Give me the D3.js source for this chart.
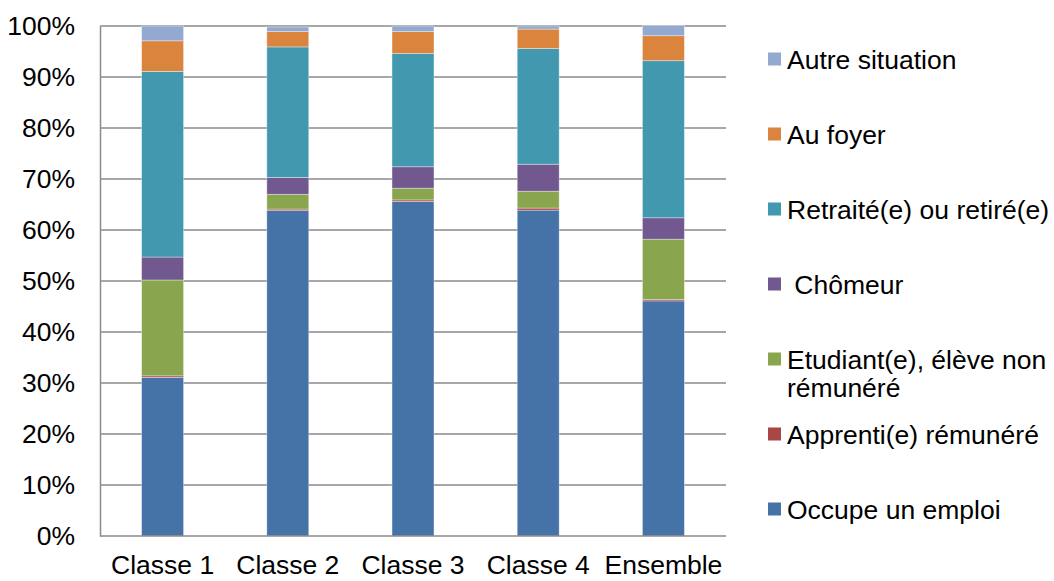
<!DOCTYPE html>
<html><head><meta charset="utf-8">
<script src="https://cdn.jsdelivr.net/npm/d3@7"></script>
<style>body{margin:0;background:#fff}svg{display:block}text{font-family:"Liberation Sans",Arial,sans-serif;fill:#000}</style>
</head><body>
<svg id="c" width="1054" height="581"></svg>
<script>
const categories = ["Classe 1","Classe 2","Classe 3","Classe 4","Ensemble"];
const seriesNames = ["Occupe un emploi","Apprenti(e) rémunéré","Etudiant(e), élève non rémunéré"," Chômeur","Retraité(e) ou retiré(e)","Au foyer","Autre situation"];
const emploi    = [31.1, 63.8, 65.6, 63.9, 46.1];
const apprenti  = [0.3, 0.3, 0.3, 0.4, 0.3];
const etudiant  = [18.8, 2.9, 2.3, 3.3, 11.8];
const chomeur   = [4.5, 3.3, 4.2, 5.3, 4.2];
const retraite  = [36.4, 25.6, 22.2, 22.7, 30.8];
const foyer     = [6.0, 3.0, 4.3, 3.8, 4.9];
const autre     = [2.9, 0.9, 1.1, 0.6, 2.0];
const colors = ["#4572A7","#AA4643","#89A54E","#71588F","#4198AF","#DB843D","#93A9CF"];
const yTicks = [0,10,20,30,40,50,60,70,80,90,100];

const FS = 26.5;
const allSeries = [emploi, apprenti, etudiant, chomeur, retraite, foyer, autre];
const rows = categories.map((c,i)=>{const o={cat:c}; seriesNames.forEach((s,j)=>o[s]=allSeries[j][i]); return o;});
const stack = d3.stack().keys(seriesNames)(rows);

const svg = d3.select("#c");
const x = d3.scaleBand().domain(categories).range([100,726]).paddingInner(0.665).paddingOuter(0.3325);
const y = d3.scaleLinear().domain([0,100]).range([536,26]);

// gridlines
svg.append("g").selectAll("line").data(yTicks.filter(t=>t>0)).join("line")
  .attr("x1",100).attr("x2",726).attr("y1",d=>y(d)).attr("y2",d=>y(d))
  .attr("stroke","#8a8a8a").attr("stroke-width",1.5);

// bars
svg.append("g").selectAll("g").data(stack).join("g")
  .attr("fill",(d,i)=>colors[i])
  .selectAll("rect").data(d=>d).join("rect")
  .attr("x",d=>x(d.data.cat)).attr("width",x.bandwidth())
  .attr("y",d=>y(d[1])).attr("height",d=>y(d[0])-y(d[1]))
  .attr("stroke","#ffffff").attr("stroke-opacity",0.45).attr("stroke-width",0.8);

// axes
const yAxis = svg.append("g").attr("transform","translate(100,0)")
  .call(d3.axisLeft(y).tickValues(yTicks).tickFormat(d=>d+"%").tickSize(0).tickPadding(25));
yAxis.select(".domain").attr("stroke","#8a8a8a").attr("stroke-width",1.5);
yAxis.selectAll("text").attr("font-size",FS).attr("font-family","Liberation Sans, Arial, sans-serif").attr("fill","#000");

const xAxis = svg.append("g").attr("transform","translate(0,536)")
  .call(d3.axisBottom(x).tickSize(0).tickPadding(19));
xAxis.select(".domain").attr("stroke","#8a8a8a").attr("stroke-width",1.5).attr("d","M100,0H726");
xAxis.selectAll("text").attr("font-size",FS).attr("font-family","Liberation Sans, Arial, sans-serif").attr("fill","#000");

// legend (top to bottom reversed order)
const legendOrder = seriesNames.map((s,i)=>({name:s,color:colors[i]})).reverse();
const ly = d3.scalePoint().domain(legendOrder.map(d=>d.name)).range([59,509]);
const lg = svg.append("g").selectAll("g").data(legendOrder).join("g")
  .attr("transform",d=>`translate(768,${ly(d.name)})`);
lg.append("rect").attr("x",0).attr("y",-6.5).attr("width",13).attr("height",13).attr("fill",d=>d.color);
lg.each(function(d){
  const g = d3.select(this);
  const t = g.append("text").attr("x",19).attr("font-size",FS).attr("xml:space","preserve").style("white-space","pre");
  if (d.name.startsWith("Etudiant")) {
    t.append("tspan").attr("x",19).attr("y",10).text("Etudiant(e), élève non");
    t.append("tspan").attr("x",19).attr("y",38).text("rémunéré");
  } else {
    t.attr("y",10).text(d.name);
  }
});
</script>
</body></html>
